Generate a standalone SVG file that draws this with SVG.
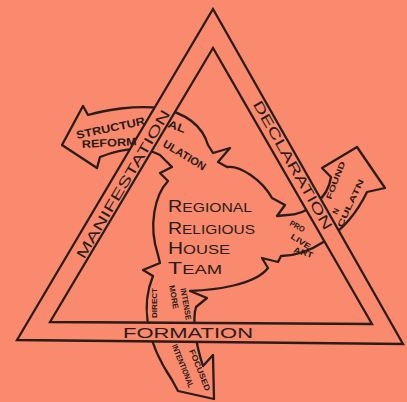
<svg xmlns="http://www.w3.org/2000/svg" width="407" height="402" viewBox="0 0 407 402">
<style>
.ln{fill:none;stroke:#2a1c19;stroke-width:2.3;stroke-linejoin:round;stroke-linecap:round}
.band{fill:#F98A6E;fill-rule:evenodd;stroke:#2a1c19;stroke-width:2.3;stroke-linejoin:miter}
.t{font-family:"Liberation Sans",Arial,sans-serif;fill:#2a1c19}
.bt{font-size:14px}
.at{font-size:11px;font-weight:bold}
.st{font-size:8px;font-weight:bold}
.ct{font-size:13.5px}
.cap{font-size:17px}
</style>
<rect width="407" height="402" fill="#F98A6E"/>
<g id="connectors">
<path id="arrows-outline" class="ln" d="M62,145 L97,168 L100,157 C115,151 140,144 160,155 L172,167 L160,173 L168,181 C155,195 148,225 158,255 L160,263 L143,270 L153,276 C143,300 142,335 172,380 L178,391 L214,399 L213,355 L203,366 C196,345 192,320 196,307 L207,298 L190,291 C215,290 255,285 268,268 L262,258 L278,262 L281,256 C305,256 345,238 367,192 L385,188 L357,147 L322,168 L331,177 C328,200 305,215 287,215 L277,216 L285,205 L272,198 C262,180 240,165 227,167 L218,162 L230,148 L213,153 L208,145 C203,128 190,114 160,108 C135,105 105,110 88,115 L83,106 Z"/>
</g>
<g id="triangle">
<path class="band" d="M213,9 L403,344 L17,340 Z M213,48 L50,322 L372,324 Z"/>
<text class="t bt" transform="translate(123,184) rotate(-59.4)" text-anchor="middle" dy="0.36em" textLength="170" lengthAdjust="spacingAndGlyphs">MANIFESTATION</text>
<text class="t bt" transform="translate(293,165) rotate(60.3)" text-anchor="middle" dy="0.36em" font-size="15" textLength="146" lengthAdjust="spacingAndGlyphs">DECLARATION</text>
<text class="t" x="123" y="338" font-size="15" textLength="130" lengthAdjust="spacingAndGlyphs">FORMATION</text>
</g>
<g id="arrow-structural">
<text class="t at" transform="translate(77,139) rotate(-12)" textLength="70" lengthAdjust="spacingAndGlyphs">STRUCTUR</text>
<text class="t at" transform="translate(82,148) rotate(-3)" textLength="55" lengthAdjust="spacingAndGlyphs">REFORM</text>
<text class="t at" transform="translate(167,127) rotate(20)" textLength="18" lengthAdjust="spacingAndGlyphs">AL</text>
<text class="t at" font-size="10" transform="translate(162,146) rotate(31)" textLength="48" lengthAdjust="spacingAndGlyphs">ULATION</text>
</g>
<g id="arrow-profound">
<text class="t st" transform="translate(289,225) rotate(28)" textLength="16" lengthAdjust="spacingAndGlyphs">PRO</text>
<text class="t st" transform="translate(290,238) rotate(32)" textLength="22" lengthAdjust="spacingAndGlyphs">LIVE</text>
<text class="t st" transform="translate(293,252) rotate(18)" textLength="20" lengthAdjust="spacingAndGlyphs">ART</text>
<text class="t st" transform="translate(331,200) rotate(-69)" textLength="40" lengthAdjust="spacingAndGlyphs">FOUND</text>
<text class="t st" font-size="7" transform="translate(337,215) rotate(-65)">N</text>
<text class="t st" transform="translate(342,228) rotate(-65)" textLength="52" lengthAdjust="spacingAndGlyphs">CULATN</text>
</g>
<g id="arrow-focused">
<text class="t st" font-size="7.5" transform="translate(154,303) rotate(-90)" text-anchor="middle" dy="0.36em" textLength="30" lengthAdjust="spacingAndGlyphs">DIRECT</text>
<text class="t st" font-size="7.5" transform="translate(174,297) rotate(80)" text-anchor="middle" dy="0.36em" textLength="24" lengthAdjust="spacingAndGlyphs">MORE</text>
<text class="t st" font-size="7.5" transform="translate(186,304) rotate(80)" text-anchor="middle" dy="0.36em" textLength="32" lengthAdjust="spacingAndGlyphs">INTENSE</text>
<text class="t st" font-size="7.5" transform="translate(183,366) rotate(68)" text-anchor="middle" dy="0.36em" textLength="46" lengthAdjust="spacingAndGlyphs">INTENTIONAL</text>
<text class="t st" font-size="7.5" transform="translate(200,370) rotate(68)" text-anchor="middle" dy="0.36em" textLength="44" lengthAdjust="spacingAndGlyphs">FOCUSED</text>
</g>
<g id="regional-religious-house-team">
<text class="t ct" x="168" y="212" textLength="84" lengthAdjust="spacingAndGlyphs"><tspan class="cap">R</tspan>EGIONAL</text>
<text class="t ct" x="168" y="234" textLength="87" lengthAdjust="spacingAndGlyphs"><tspan class="cap">R</tspan>ELIGIOUS</text>
<text class="t ct" x="168" y="254" textLength="62" lengthAdjust="spacingAndGlyphs"><tspan class="cap">H</tspan>OUSE</text>
<text class="t ct" x="168" y="274" textLength="54" lengthAdjust="spacingAndGlyphs"><tspan class="cap">T</tspan>EAM</text>
</g>
</svg>
